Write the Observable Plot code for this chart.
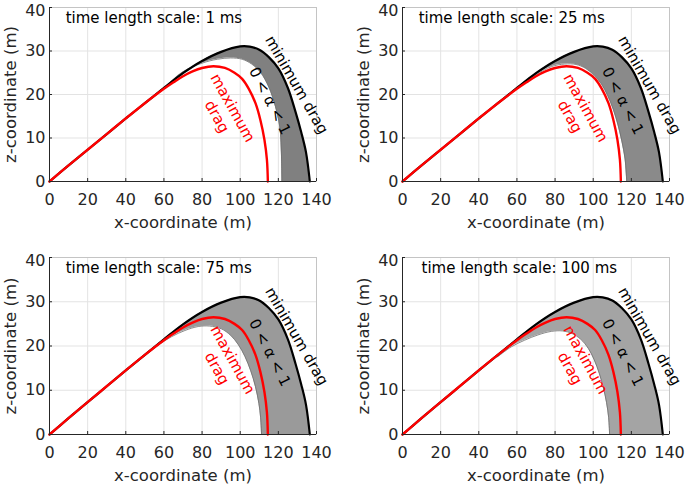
<!DOCTYPE html>
<html><head><meta charset="utf-8">
<script src="https://cdn.jsdelivr.net/npm/d3@7"></script>
<script src="https://cdn.jsdelivr.net/npm/@observablehq/plot@0.6"></script>
<style>
html,body{margin:0;padding:0;background:#fff;overflow:hidden;}
#fig{position:relative;width:685px;height:486px;background:#fff;}
.panel{position:absolute;}
</style></head><body><div id="fig"></div>
<script>
// ---- data ----
const xTicks = [0, 20, 40, 60, 80, 100, 120, 140];
const zTicks = [0, 10, 20, 30, 40];

// minimum drag trajectory (black)
const minDragX = [0, 10, 20, 30, 40, 50, 60, 70, 80, 90, 100, 105, 110, 115, 120, 125, 129, 132, 134.5, 136.5];
const minDragZ = [0, 3.7, 7.3, 10.9, 14.5, 18.0, 21.5, 24.9, 27.7, 29.8, 31.05, 31.0, 30.3, 28.6, 26.0, 21.5, 16.0, 11.3, 6.7, 0];

// maximum drag trajectory (red)
const maxDragX = [0, 10, 20, 30, 40, 50, 60, 65, 70, 75, 80, 86, 92, 97, 101, 104.5, 108, 110.6, 112.7, 114, 114.5];
const maxDragZ = [0, 3.7, 7.3, 10.9, 14.5, 18.0, 21.3, 22.8, 24.2, 25.3, 26.1, 26.5, 26.1, 25.0, 23.6, 21.3, 18.0, 14.1, 9.6, 5.0, 0];

// lower edge of the 0 < alpha < 1 family, per time length scale
const band1msX = [50, 60, 70, 80, 88, 95, 101, 106, 110.6, 115, 118.5, 120.2, 121.1, 121.6, 121.9];
const band1msZ = [18.0, 21.5, 25.2, 27.2, 28.1, 28.4, 28.1, 27.0, 25.1, 21.7, 17.2, 14.0, 11.1, 6.5, 0];
const band25msX = [50, 60, 70, 78, 85, 91, 96, 100.5, 104.3, 107.5, 110.5, 113, 115, 116.7, 117.6];
const band25msZ = [18.0, 21.4, 24.5, 26.4, 27.0, 26.9, 26.0, 24.4, 22.4, 19.8, 16.6, 13.0, 9.3, 5.2, 0];
const band75msX = [50, 57, 64, 71, 78, 84, 90, 95, 99, 102.5, 105.5, 108, 109.8, 110.7, 111.2];
const band75msZ = [18.0, 20.2, 22.1, 23.5, 24.4, 24.5, 23.9, 22.4, 20.3, 17.6, 14.4, 10.8, 7.0, 3.8, 0];
const band100msX = [50, 57, 64, 71, 78, 84, 89, 93.5, 97.5, 100.5, 103.2, 105.3, 107, 108.1, 108.6];
const band100msZ = [17.6, 19.8, 21.3, 22.5, 23.3, 23.4, 22.8, 21.5, 19.4, 16.9, 13.8, 10.6, 7.2, 3.8, 0];

const titles = ["time length scale: 1 ms", "time length scale: 25 ms", "time length scale: 75 ms", "time length scale: 100 ms"];
const titleX = [8.5, 8.5, 8.5, 10];
const titleZ = [37.5, 37.5, 37.5, 37.5];

// annotation labels
const labelText = ["minimum drag", "0 < α < 1", "maximum\ndrag"];
const labelX = [129.5, 115.5, 92.3];
const labelZ = [22.2, 18.5, 16.0];

// ---- layout ----
const bandX = [band1msX, band25msX, band75msX, band100msX];
const bandZ = [band1msZ, band25msZ, band75msZ, band100msZ];
const bandFill = ["#808080", "#8a8a8a", "#9a9a9a", "#a4a4a4"];
const panelLeft = [0, 353, 0, 353];
const panelTop = [0, 0, 253, 253];
const panelWidth = [342, 332, 342, 332];
const panelMarginTop = [7, 7, 4, 4];

const minDrag = minDragX.map((x, i) => ({x, z: minDragZ[i]}));
const maxDrag = maxDragX.map((x, i) => ({x, z: maxDragZ[i]}));
const labels = labelText.map((t, i) => ({t, x: labelX[i], z: labelZ[i]}));
const zTicksLow = zTicks.slice(0, -1);
const zTickTop = zTicks.slice(-1);

const fig = document.getElementById("fig");
for (let p = 0; p < 4; p++) {
  const start = minDragX.length - bandX[p].length;
  const band = bandX[p].map((x, i) => ({x1: minDragX[start + i], z1: minDragZ[start + i], x2: x, z2: bandZ[p][i]}));
  const lower = bandX[p].map((x, i) => ({x, z: bandZ[p][i]}));
  const chart = Plot.plot({
    width: panelWidth[p],
    height: 233,
    marginLeft: 49,
    marginRight: panelWidth[p] - 49 - 267,
    marginTop: panelMarginTop[p],
    marginBottom: 52,
    style: {fontFamily: "DejaVu Sans, sans-serif", fontSize: "16px", background: "white", color: "#262626", overflow: "visible"},
    x: {domain: [0, 140]},
    y: {domain: [0, 40]},
    marks: [
      Plot.gridX(xTicks, {stroke: "#e3e3e3", strokeOpacity: 1}),
      Plot.gridY(zTicks, {stroke: "#e3e3e3", strokeOpacity: 1}),
      Plot.frame({stroke: "#c4c4c4"}),
      Plot.area(band, {x1: "x1", y1: "z1", x2: "x2", y2: "z2", fill: bandFill[p], curve: "catmull-rom"}),
      Plot.line(lower, {x: "x", y: "z", stroke: "#6e6e6e", strokeWidth: 0.8, curve: "catmull-rom"}),
      Plot.line(minDrag, {x: "x", y: "z", stroke: "black", strokeWidth: 2.2, curve: "catmull-rom"}),
      Plot.line(maxDrag, {x: "x", y: "z", stroke: "#ff0000", strokeWidth: 2.4, curve: "catmull-rom"}),
      Plot.text([labels[0]], {x: "x", y: "z", text: "t", rotate: 60, fill: "black", fontSize: 15}),
      Plot.text([labels[1]], {x: "x", y: "z", text: "t", rotate: 63, fill: "black", fontSize: 15}),
      Plot.text([labels[2]], {x: "x", y: "z", text: "t", rotate: 61, fill: "#ff0000", fontSize: 15, lineHeight: 1.2}),
      Plot.text([titles[p]], {x: () => titleX[p], y: () => titleZ[p], text: d => d, textAnchor: "start", fill: "black", fontSize: 15}),
      Plot.ruleY([0], {stroke: "#262626"}),
      Plot.ruleX([0], {stroke: "#262626"}),
      Plot.axisX(xTicks, {tickSize: 0, tickPadding: 12, fontSize: 16, fill: "#262626"}),
      Plot.axisY(zTicksLow, {tickSize: 0, tickPadding: 4, fontSize: 16, fill: "#262626", label: null}),
      Plot.axisY(zTickTop, {tickSize: 0, tickPadding: 4, fontSize: 16, fill: "#262626", label: null, dy: 3}),
      Plot.axisX(xTicks, {tickSize: -3, tickFormat: () => "", stroke: "#262626", label: null}),
      Plot.axisY(zTicks, {tickSize: -3, tickFormat: () => "", stroke: "#262626", label: null}),
      Plot.text(["x-coordinate (m)"], {frameAnchor: "bottom", dy: 41, textAnchor: "middle", lineAnchor: "middle", text: d => d, fill: "#262626", fontSize: 16.5}),
      Plot.text(["z-coordinate (m)"], {frameAnchor: "left", dx: -39, rotate: -90, textAnchor: "middle", lineAnchor: "middle", text: d => d, fill: "#262626", fontSize: 16.5})
    ]
  });
  chart.classList.add("panel");
  chart.style.left = panelLeft[p] + "px";
  chart.style.top = panelTop[p] + "px";
  fig.appendChild(chart);
}
</script></body></html>
